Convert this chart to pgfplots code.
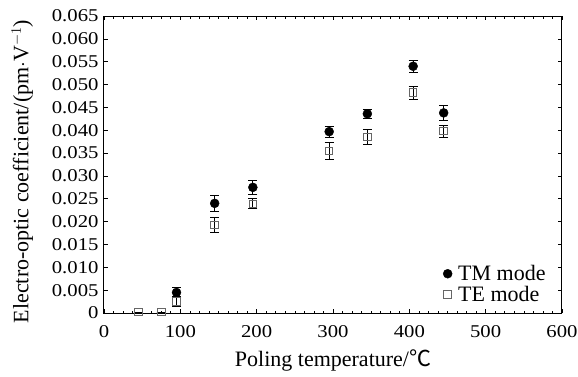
\documentclass[border=0pt]{standalone}
\usepackage{pgfplots}
\pgfplotsset{compat=1.18}
\usepackage{fontspec}
\setmainfont{Liberation Serif}
\newfontfamily\tickfont{Liberation Serif}[FakeStretch=1.15]
\newfontfamily\cjk{Noto Sans CJK SC}
\begin{document}
\begin{tikzpicture}[x=1pt,y=1pt]
\begin{axis}[
  scale only axis,
  width=458pt, height=297pt,
  xmin=0, xmax=600, ymin=0, ymax=0.065,
  xtick={0,100,...,600},
  ytick={0,0.005,...,0.0651},
  yticklabels={0,0.005,0.010,0.015,0.020,0.025,0.030,0.035,0.040,0.045,0.050,0.055,0.060,0.065},
  minor x tick num=7,
  tick align=inside,
  major tick length=4pt, minor tick length=2.5pt,
  tick style={black, line width=0.6pt},
  axis line style={line width=1pt},
  ticklabel style={font=\tickfont\fontsize{18}{19}\selectfont},
  /pgf/number format/assume math mode=true,
  xticklabel style={yshift=-9pt},
  yticklabel style={xshift=-2pt},
  scaled y ticks=false,
  xlabel={Poling temperature/{\cjk ℃}},
  ylabel={Electro-optic coefficient/(pm$\cdot$V$^{-1}$)},
  label style={font=\fontsize{22}{24}\selectfont},
  xlabel style={yshift=-5pt},
  ylabel style={yshift=12pt, xshift=-7pt},
  legend style={draw=none, fill=none, at={(rel axis cs:0.97,0.025)}, anchor=south east,
     font=\fontsize{22}{24}\selectfont, row sep=0pt, column sep=4pt, inner sep=0.5pt},
  legend cell align=left,
  clip=false,
]
\addplot+[only marks, mark=*, mark size=4.5pt, black, mark options={fill=black, draw=black},
  error bars/.cd, y dir=both, y explicit, error mark options={rotate=90, mark size=4.5pt, line width=0.7pt}, error bar style={line width=0.9pt}]
  coordinates {
  (95,0.0045) +- (0,0.0011)
  (145,0.0240) +- (0,0.0018)
  (195,0.0275) +- (0,0.0016)
  (295,0.0397) +- (0,0.0012)
  (345,0.0436) +- (0,0.0010)
  (405,0.0540) +- (0,0.0014)
  (445,0.0438) +- (0,0.0016)
  };
\addlegendentry{TM mode}
\addplot+[only marks, mark=square, mark size=3.8pt, black, mark options={draw=black!60, fill=white, line width=1pt},
  error bars/.cd, y dir=both, y explicit, error mark options={rotate=90, mark size=4.5pt, line width=0.7pt}, error bar style={line width=0.9pt, black}]
  coordinates {
  (45,0.0002) +- (0,0)
  (75,0.0002) +- (0,0)
  (95,0.0025) +- (0,0.0011)
  (145,0.0193) +- (0,0.0016)
  (195,0.0239) +- (0,0.0011)
  (295,0.0355) +- (0,0.0019)
  (345,0.0385) +- (0,0.0016)
  (405,0.0482) +- (0,0.0014)
  (445,0.0398) +- (0,0.0013)
  };
\addlegendentry{TE mode}
\end{axis}
\pgfresetboundingbox
\path[use as bounding box] (-104pt,-63pt) rectangle (474pt,313pt);
\end{tikzpicture}
\end{document}
